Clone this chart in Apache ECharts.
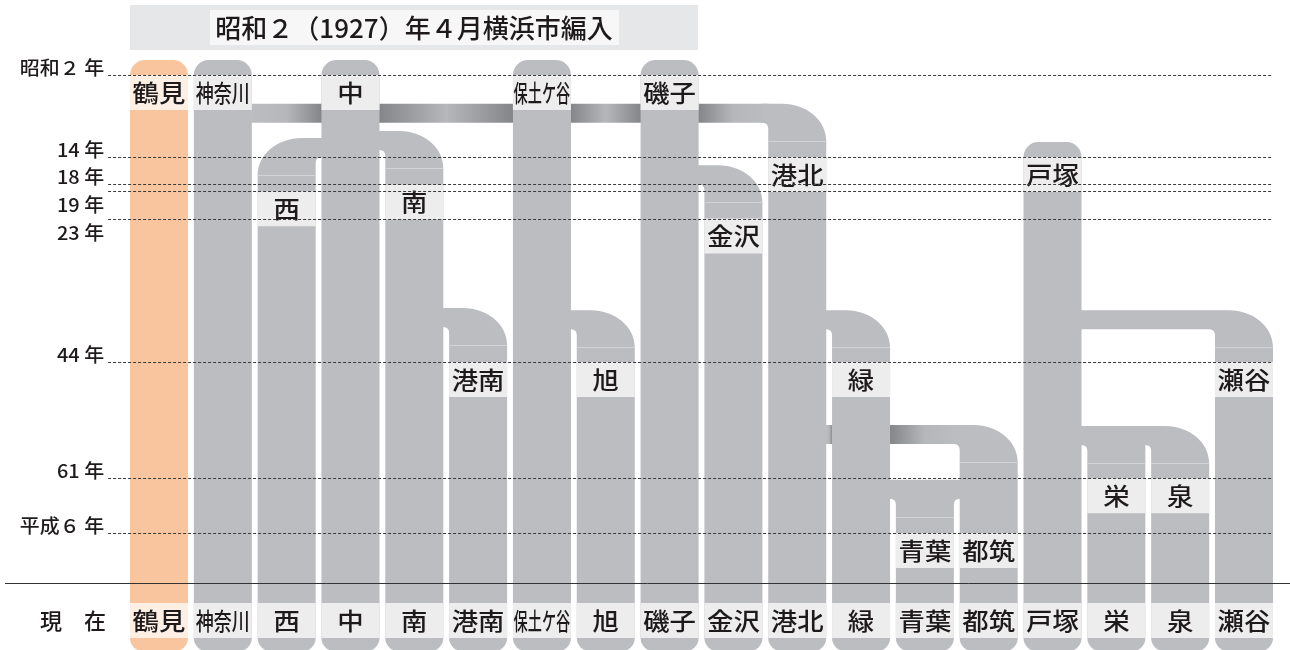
<!DOCTYPE html>
<html lang="ja">
<head>
<meta charset="utf-8">
<title>横浜市 区の変遷</title>
<script src="https://cdn.jsdelivr.net/npm/echarts@6.0.0/dist/echarts.min.js"></script>
<style>
  html, body { margin: 0; padding: 0; background: #fff; }
  #chart { width: 1290px; height: 650px; }
</style>
</head>
<body>
<div id="chart"></div>
<script>
// 区名（左から）
const wards = ['鶴見', '神奈川', '西', '中', '南', '港南', '保土ケ谷', '旭', '磯子', '金沢', '港北', '緑', '青葉', '都筑', '戸塚', '栄', '泉', '瀬谷']
// 各区の誕生年（ラベルの位置）
const startYears = [1927, 1927, 1944, 1927, 1943, 1969, 1927, 1969, 1927, 1948, 1939, 1969, 1994, 1994, 1939, 1986, 1986, 1969]

// 年の目盛り
const yearTicks = [1927, 1939, 1943, 1944, 1948, 1969, 1986, 1994]
const yearTickLabels = ['昭和２ 年', '14 年', '18 年', '19 年', '23 年', '44 年', '61 年', '平成６ 年']

// 分区のつながり（元の区 → 新しい区、分岐の高さ）
const linkFrom = [3, 3, 8, 1, 4, 6, 10, 14, 14, 14, 10, 11]
const linkTo = [2, 4, 9, 10, 5, 7, 11, 17, 15, 16, 13, 12]
const linkYear = [1936.2, 1935.2, 1940.2, 1931.2, 1961.1, 1961.4, 1961.4, 1961.4, 1978.35, 1978.35, 1978.2, 1986.2]
const linkKind = ['split', 'split', 'split', 'tube', 'split', 'split', 'split', 'split', 'split', 'split', 'tube', 'bridge']

const titleText = '昭和２（1927）年４月横浜市編入'
const nowText = '現　在'

// 見た目
const GREY = '#bcbdc1'
const ORANGE = '#f8c59f'
const BOX = '#ededed'
const BOX_ORANGE = '#fdefe4'
const TEXT = '#1e1a1b'
const DARK = '#848589'
const MID = '#b6b7bb'
const FONT = '"Noto Sans CJK JP", sans-serif'
const COL_RATIO = 0.909
const BAND = 19
const FILLET = 6
const RX = 44
const RY = 37
const CAP = 15
const BOX_H = 35

const chart = echarts.init(document.getElementById('chart'))

const geom = (api, i, year) => {
  const p = api.coord([i, year])
  const w = api.size([1, 0])[0] * COL_RATIO
  return { cx: p[0], y: p[1], w, l: p[0] - w / 2, r: p[0] + w / 2 }
}

const labelScale = (name) => (name.length <= 2 ? 1.1 : name.length === 3 ? 0.75 : 0.59)

const wardLabel = (name, cx, cy) => ({
  type: 'text',
  x: cx,
  y: cy,
  scaleX: labelScale(name),
  style: { text: name, x: 0, y: 0, align: 'center', verticalAlign: 'middle', fill: TEXT, font: '500 24px ' + FONT },
})

const topYearOf = (j) => {
  const k = linkTo.indexOf(j)
  return k >= 0 ? linkYear[k] : startYears[j]
}

// 他の区の後ろを通る帯
const renderTube = (params, api) => {
  const k = api.value(0)
  const from = linkFrom[k]
  const to = linkTo[k]
  const yr = linkYear[k]
  const y0 = api.coord([from, yr])[1]
  const segs = []
  let prevX = geom(api, from, yr).r
  let prevDark = false
  for (let j = from + 1; j < to; j++) {
    if (topYearOf(j) < yr) {
      const g = geom(api, j, yr)
      segs.push([prevX, g.l, prevDark, true])
      prevX = g.r
      prevDark = true
    }
  }
  segs.push([prevX, geom(api, to, yr).l, prevDark, false])
  return {
    type: 'group',
    children: segs.map(([a, b, ld, rd]) => ({
      type: 'rect',
      shape: { x: a - 0.5, y: y0, width: b - a + 1, height: BAND },
      style: {
        fill: new echarts.graphic.LinearGradient(0, 0, 1, 0, [
          { offset: 0, color: ld ? DARK : GREY },
          { offset: 0.5, color: MID },
          { offset: 1, color: rd ? DARK : GREY },
        ]),
      },
    })),
  }
}

// 分岐の曲がり角
const renderLink = (params, api) => {
  const k = api.value(0)
  const from = linkFrom[k]
  const to = linkTo[k]
  const kind = linkKind[k]
  const yr = linkYear[k]
  const d = to > from ? 1 : -1
  const p = geom(api, from, yr)
  const c = geom(api, to, yr)
  const y0 = c.y
  const yB = api.coord([to, startYears[to]])[1] + 2
  const near = d > 0 ? c.l : c.r
  const far = d > 0 ? c.r : c.l
  const pe = d > 0 ? p.r : p.l
  const bandStart = kind === 'tube' ? near - d * (FILLET + 1) : pe - d
  const covered = linkFrom.some(
    (f2, k2) => k2 !== k && f2 === from && Math.abs(linkYear[k2] - yr) < 0.01 && (linkTo[k2] - from) * d > (to - from) * d
  )
  const yb = y0 + BAND
  let path = `M${bandStart},${y0}`
  if (kind === 'bridge') {
    const nb = geom(api, to + d, yr)
    const nNear = d > 0 ? nb.l : nb.r
    path += ` L${nNear + d},${y0} L${nNear + d},${yb} L${far + d * FILLET},${yb} Q${far},${yb} ${far},${yb + FILLET}`
  } else if (covered) {
    path += ` L${far},${y0}`
  } else {
    const kk = 1 - 0.5523
    path += ` L${far - d * RX},${y0} C${far - d * RX * kk},${y0} ${far},${y0 + RY * kk} ${far},${y0 + RY}`
  }
  path += ` L${far},${yB} L${near},${yB} L${near},${yb + FILLET} Q${near},${yb} ${near - d * FILLET},${yb} L${bandStart},${yb} Z`
  const seamY = Math.round(y0 + RY) + 0.5
  return {
    type: 'group',
    children: [
      { type: 'path', shape: { pathData: path }, style: { fill: GREY } },
      { type: 'line', shape: { x1: c.l, y1: seamY, x2: c.r, y2: seamY }, style: { stroke: '#d2d3d6', lineWidth: 1 } },
    ],
  }
}

// 区の柱とラベル
const renderColumn = (params, api) => {
  const i = api.value(0)
  const g = geom(api, i, api.value(1))
  const hasLink = linkTo.indexOf(i) >= 0
  const bottom = api.getHeight() + 1
  const top = hasLink ? g.y : g.y - CAP
  const rt = hasLink ? 0 : CAP
  const rb = 13
  const color = i === 0 ? ORANGE : GREY
  const boxColor = i === 0 ? BOX_ORANGE : BOX
  let path = `M${g.l},${top + rt}`
  if (rt) path += ` A${rt},${rt} 0 0 1 ${g.l + rt},${top} L${g.r - rt},${top} A${rt},${rt} 0 0 1 ${g.r},${top + rt}`
  else path += ` L${g.r},${top}`
  path += ` L${g.r},${bottom - rb} A${rb},${rb} 0 0 1 ${g.r - rb},${bottom} L${g.l + rb},${bottom} A${rb},${rb} 0 0 1 ${g.l},${bottom - rb} Z`
  const bottomBoxY = api.getHeight() - 47
  return {
    type: 'group',
    children: [
      { type: 'path', shape: { pathData: path }, style: { fill: color } },
      { type: 'rect', shape: { x: g.l, y: g.y, width: g.w, height: BOX_H }, style: { fill: boxColor } },
      wardLabel(wards[i], g.cx, g.y + BOX_H / 2),
      { type: 'rect', shape: { x: g.l, y: bottomBoxY, width: g.w, height: BOX_H }, style: { fill: boxColor } },
      wardLabel(wards[i], g.cx, bottomBoxY + BOX_H / 2),
    ],
  }
}

// 目盛りラベルの上下（重なる時は線の下へ）
const tickLabelPlace = (() => {
  let prevBottom = -Infinity
  return (k, y) => {
    if (k === 0) prevBottom = -Infinity
    let cy = y - 8
    if (cy - 9 < prevBottom + 2) cy = y + 13
    prevBottom = cy + 9
    return cy
  }
})()

// 点線の年ライン
const renderTick = (params, api) => {
  const k = api.value(0)
  const year = yearTicks[k]
  const half = api.size([1, 0])[0] / 2
  const y = Math.round(api.coord([0, year])[1]) + 0.5
  const x0 = api.coord([0, year])[0] - half - 19
  const x1 = api.coord([wards.length - 1, year])[0] + half - 3
  const cy = tickLabelPlace(k, y)
  return {
    type: 'group',
    children: [
      { type: 'line', shape: { x1: x0, y1: y, x2: x1, y2: y }, style: { stroke: '#3a3a3a', lineWidth: 1, lineDash: [3, 2] } },
      {
        type: 'text',
        x: x0 - 4,
        y: cy,
        scaleX: 1.05,
        style: { text: yearTickLabels[k], x: 0, y: 0, align: 'right', verticalAlign: 'middle', fill: TEXT, font: '500 19px ' + FONT },
      },
    ],
  }
}

const tubeIdx = linkKind.map((kd, k) => k).filter((k) => linkKind[k] === 'tube')

const option = {
  animation: false,
  grid: { left: 127.1, right: 14.1, top: 61.33, bottom: 0.78 },
  xAxis: { type: 'category', data: wards, show: false },
  yAxis: { type: 'value', inverse: true, min: 1925, max: 2011, show: false },
  graphic: [
    { type: 'rect', shape: { x: 130, y: 5, width: 568, height: 45 }, style: { fill: '#e6e7e8' } },
    { type: 'rect', shape: { x: 210, y: 10, width: 409, height: 35 }, style: { fill: '#f7f7f7' } },
    {
      type: 'text',
      style: { text: titleText, x: 414, y: 28, align: 'center', verticalAlign: 'middle', fill: TEXT, font: '500 26px ' + FONT },
    },
    {
      type: 'text',
      style: { text: nowText, x: 73, y: 621, align: 'center', verticalAlign: 'middle', fill: TEXT, font: '500 22px ' + FONT },
    },
    { type: 'line', z: 20, shape: { x1: 5, y1: 583.5, x2: 1290, y2: 583.5 }, style: { stroke: '#333', lineWidth: 1 } },
  ],
  series: [
    {
      type: 'custom',
      name: 'tubes',
      silent: true,
      clip: false,
      renderItem: renderTube,
      data: tubeIdx.map((k) => [k, linkYear[k]]),
    },
    {
      type: 'custom',
      name: 'links',
      silent: true,
      clip: false,
      renderItem: renderLink,
      data: linkFrom.map((f, k) => [k, linkYear[k]]),
    },
    {
      type: 'custom',
      name: 'wards',
      silent: true,
      clip: false,
      renderItem: renderColumn,
      data: wards.map((w, i) => [i, startYears[i]]),
    },
    {
      type: 'custom',
      name: 'years',
      silent: true,
      clip: false,
      renderItem: renderTick,
      data: yearTicks.map((y, k) => [k, y]),
    },
  ],
}

chart.setOption(option)
window.addEventListener('resize', () => chart.resize())
</script>
</body>
</html>
